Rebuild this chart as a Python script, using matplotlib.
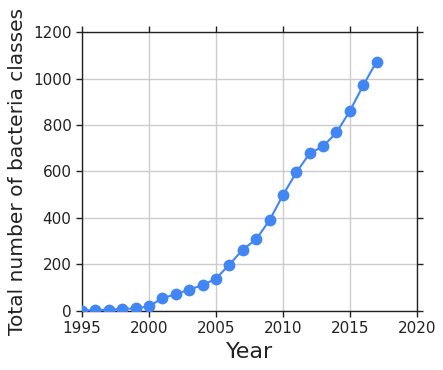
import matplotlib
matplotlib.use('Agg')
import matplotlib.pyplot as plt

years = list(range(1995, 2018))
classes = [2, 4, 6, 9, 11, 20, 55, 72, 92, 111, 139, 199, 264,
           308, 390, 498, 596, 678, 708, 768, 860, 971, 1073]

x_ticks = [1995, 2000, 2005, 2010, 2015, 2020]
y_ticks = [0, 200, 400, 600, 800, 1000, 1200]

fig = plt.figure(figsize=(4.43, 3.70), dpi=100)
ax = fig.add_axes([0.185, 0.1595, 0.756, 0.754])

ax.plot(years, classes, '-o', color='#4286f4', markersize=8.5, linewidth=1.5,
        markeredgewidth=0, zorder=3)

ax.set_xlim(1995, 2020)
ax.set_ylim(0, 1200)
ax.set_xticks(x_ticks)
ax.set_yticks(y_ticks)
ax.grid(True, color='#cccccc', linewidth=1)
ax.set_axisbelow(True)
ax.tick_params(direction='out', length=4, width=1, labelsize=11, colors='#222222',
               top=True, right=True)
for s in ax.spines.values():
    s.set_color('#222222')
    s.set_linewidth(1)

ax.set_xlabel('Year', fontsize=16, color='#222222')
ax.set_ylabel('Total number of bacteria classes', fontsize=14.5, color='#222222')
ax.yaxis.set_label_coords(-0.165, 0.5)

fig.savefig('out.png', dpi=100)
